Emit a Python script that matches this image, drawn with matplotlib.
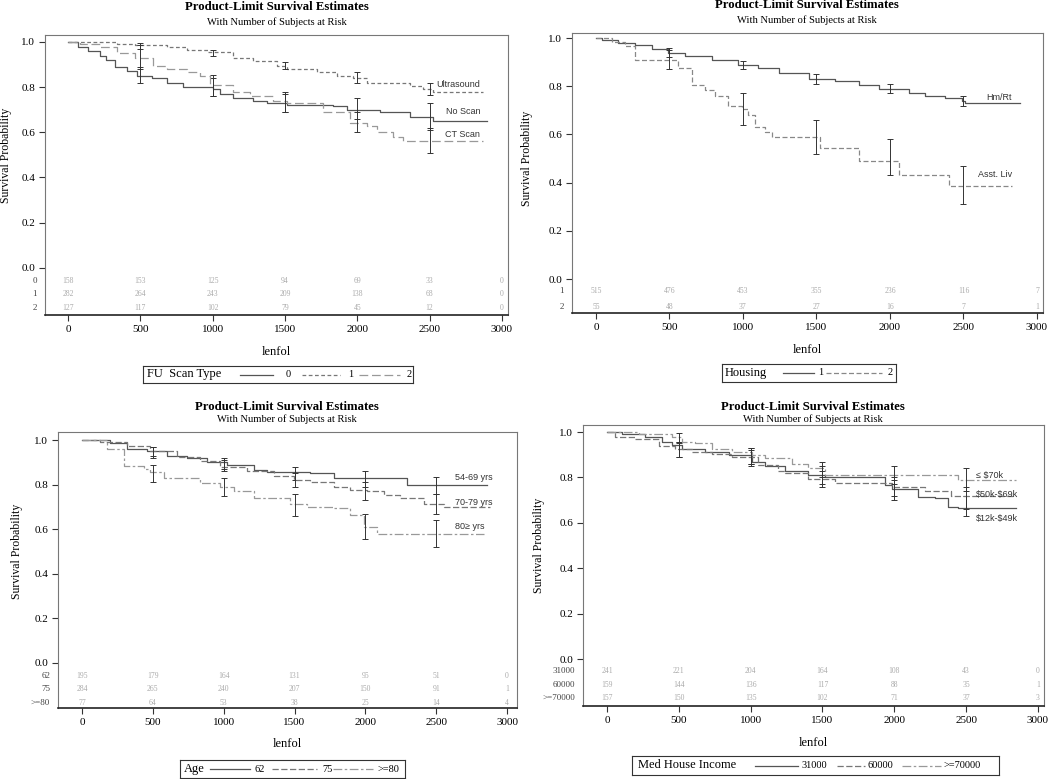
import matplotlib.pyplot as plt
import numpy as np
import matplotlib.transforms as mtransforms

SERIF = ['Liberation Serif', 'DejaVu Serif']
SANS = ['Liberation Sans', 'DejaVu Sans']

ci_times = [500, 1000, 1500, 2000, 2500]
risk_times = [0, 500, 1000, 1500, 2000, 2500, 3000]
xticks = [0, 500, 1000, 1500, 2000, 2500, 3000]
yticks = [0.0, 0.2, 0.4, 0.6, 0.8, 1.0]

# ---- panel 1: FU scan type ----
scan_labels = ['0', '1', '2']
scan_names = ['No Scan', 'Ultrasound', 'CT Scan']
noscan_t = [0, 69, 138, 219, 265, 323, 404, 473, 577, 681, 796, 1004, 1050, 1142, 1280, 1373, 1511, 1834, 1926, 2157, 2365, 2526, 2895]
noscan_s = [1.0, 0.98, 0.96, 0.94, 0.92, 0.89, 0.87, 0.85, 0.84, 0.82, 0.80, 0.79, 0.77, 0.75, 0.74, 0.73, 0.72, 0.715, 0.70, 0.69, 0.67, 0.65, 0.65]
ultra_t = [0, 335, 461, 681, 819, 969, 1142, 1280, 1442, 1511, 1719, 1857, 1973, 2065, 2365, 2457, 2526, 2872]
ultra_s = [1.0, 0.99, 0.985, 0.98, 0.965, 0.955, 0.93, 0.915, 0.895, 0.88, 0.865, 0.85, 0.84, 0.82, 0.805, 0.79, 0.78, 0.78]
ct_t = [0, 81, 219, 335, 461, 588, 681, 819, 911, 980, 1142, 1257, 1419, 1511, 1765, 1949, 2065, 2134, 2249, 2319, 2872]
ct_s = [1.0, 0.99, 0.98, 0.95, 0.93, 0.895, 0.88, 0.865, 0.85, 0.81, 0.78, 0.76, 0.74, 0.73, 0.69, 0.64, 0.63, 0.60, 0.58, 0.56, 0.56]
noscan_lo = [0.82, 0.76, 0.69, 0.66, 0.61]
noscan_hi = [0.89, 0.84, 0.77, 0.75, 0.73]
ultra_lo = [0.97, 0.94, 0.88, 0.82, 0.765]
ultra_hi = [0.995, 0.965, 0.91, 0.865, 0.82]
ct_lo = [0.88, 0.76, 0.69, 0.60, 0.51]
ct_hi = [0.985, 0.855, 0.78, 0.69, 0.62]
scan_risk = [[158, 153, 125, 94, 69, 33, 0],
             [282, 264, 243, 209, 138, 68, 0],
             [127, 117, 102, 79, 45, 12, 0]]

# ---- panel 2: housing ----
house_labels = ['1', '2']
house_names = ['Hm/Rt', 'Asst. Liv']
hmrt_t = [0, 39, 152, 266, 379, 493, 606, 788, 969, 1105, 1242, 1446, 1628, 1786, 1923, 2127, 2240, 2377, 2490, 2513, 2887]
hmrt_s = [1.0, 0.99, 0.98, 0.97, 0.955, 0.94, 0.925, 0.91, 0.89, 0.875, 0.855, 0.83, 0.82, 0.805, 0.79, 0.77, 0.76, 0.75, 0.74, 0.73, 0.73]
asst_t = [0, 107, 197, 266, 561, 651, 742, 810, 901, 992, 1037, 1083, 1151, 1196, 1525, 1786, 2059, 2399, 2830]
asst_s = [1.0, 0.985, 0.965, 0.91, 0.875, 0.805, 0.785, 0.76, 0.72, 0.705, 0.68, 0.63, 0.61, 0.59, 0.545, 0.49, 0.43, 0.385, 0.385]
hmrt_lo = [0.92, 0.87, 0.81, 0.77, 0.72]
hmrt_hi = [0.96, 0.905, 0.85, 0.81, 0.76]
asst_lo = [0.87, 0.64, 0.52, 0.43, 0.31]
asst_hi = [0.95, 0.77, 0.66, 0.58, 0.47]
house_risk = [[515, 476, 453, 355, 236, 116, 7],
              [55, 48, 37, 27, 16, 7, 1]]

# ---- panel 3: age ----
age_labels = ['62', '75', '>=80']
age_names = ['54-69 yrs', '70-79 yrs', '80\u2265 yrs']
a62_t = [0, 200, 318, 459, 600, 741, 882, 1024, 1212, 1306, 1612, 1776, 2294, 2859]
a62_s = [1.0, 0.985, 0.96, 0.95, 0.93, 0.92, 0.90, 0.89, 0.865, 0.855, 0.85, 0.83, 0.80, 0.80]
a75_t = [0, 129, 318, 482, 671, 835, 976, 1165, 1353, 1494, 1612, 1776, 1894, 2012, 2129, 2247, 2412, 2553, 2882]
a75_s = [1.0, 0.99, 0.975, 0.95, 0.925, 0.905, 0.88, 0.86, 0.84, 0.82, 0.81, 0.79, 0.775, 0.77, 0.755, 0.74, 0.715, 0.70, 0.70]
a80_t = [0, 176, 294, 435, 482, 576, 835, 976, 1071, 1212, 1471, 1588, 1776, 1894, 1988, 2082, 2835]
a80_s = [1.0, 0.96, 0.885, 0.87, 0.855, 0.83, 0.805, 0.79, 0.77, 0.74, 0.715, 0.70, 0.695, 0.665, 0.61, 0.58, 0.58]
a62_lo = [0.93, 0.87, 0.82, 0.79, 0.76]
a62_hi = [0.97, 0.92, 0.88, 0.86, 0.835]
a75_lo = [0.92, 0.86, 0.79, 0.73, 0.67]
a75_hi = [0.97, 0.91, 0.85, 0.81, 0.76]
a80_lo = [0.81, 0.75, 0.66, 0.555, 0.52]
a80_hi = [0.89, 0.83, 0.76, 0.67, 0.64]
age_risk = [[195, 179, 164, 131, 95, 51, 0],
            [284, 265, 240, 207, 150, 91, 1],
            [77, 64, 53, 38, 25, 14, 4]]

# ---- panel 4: median household income ----
inc_labels = ['31000', '60000', '>=70000']
inc_names = ['$12k-$49k', '$50k-$69k', '\u2264 $70k']
i31_t = [0, 104, 266, 382, 452, 521, 684, 846, 1008, 1101, 1240, 1402, 1518, 1935, 1981, 2166, 2282, 2375, 2444, 2850]
i31_s = [1.0, 0.99, 0.98, 0.955, 0.945, 0.925, 0.91, 0.90, 0.87, 0.85, 0.83, 0.81, 0.80, 0.765, 0.75, 0.715, 0.71, 0.67, 0.665, 0.665]
i60_t = [0, 58, 197, 359, 475, 591, 730, 869, 1054, 1193, 1240, 1402, 1587, 1981, 2213, 2398, 2850]
i60_s = [1.0, 0.98, 0.97, 0.94, 0.925, 0.91, 0.905, 0.89, 0.855, 0.83, 0.82, 0.795, 0.775, 0.76, 0.74, 0.72, 0.72]
i70_t = [0, 220, 452, 521, 614, 730, 869, 1008, 1101, 1286, 1402, 1518, 2444, 2850]
i70_s = [1.0, 0.99, 0.98, 0.955, 0.95, 0.925, 0.91, 0.90, 0.885, 0.86, 0.84, 0.81, 0.79, 0.79]
i31_lo = [0.89, 0.86, 0.77, 0.70, 0.63]
i31_hi = [0.955, 0.93, 0.85, 0.79, 0.72]
i60_lo = [0.89, 0.85, 0.76, 0.72, 0.66]
i60_hi = [0.955, 0.92, 0.83, 0.80, 0.76]
i70_lo = [0.95, 0.86, 0.80, 0.77, 0.74]
i70_hi = [0.995, 0.93, 0.87, 0.85, 0.84]
inc_risk = [[241, 221, 204, 164, 108, 43, 0],
            [159, 144, 136, 117, 88, 35, 1],
            [157, 150, 135, 102, 71, 37, 3]]

W, H = 1050, 779
fig = plt.figure(figsize=(W / 100, H / 100), dpi=100)
fig.patch.set_facecolor('white')


def px_axes(l, t, r, b):
    return fig.add_axes([l / W, 1 - b / H, (r - l) / W, (b - t) / H])


def km(ax, curves, cis, styles, risk, rlabels, row_y, xlim, ylim):
    for (t, s), (lo, hi), (ls, col) in zip(curves, cis, styles):
        t = np.asarray(t)
        s = np.asarray(s)
        ax.step(t, s, where='post', ls=ls, color=col, lw=0.9)
        idx = np.searchsorted(t, ci_times, side='right') - 1
        c = s[idx]
        lo = np.minimum(np.array(lo), c)
        hi = np.maximum(np.array(hi), c)
        ax.errorbar(ci_times, c, yerr=[c - lo, hi - c],
                    fmt='none', ecolor='#333333', elinewidth=0.7, capsize=2, capthick=0.7)
    blend = mtransforms.blended_transform_factory(ax.transAxes, ax.transData)
    for row, lab, y in zip(risk, rlabels, row_y):
        for t, n in zip(risk_times, row):
            ax.text(t, y, str(n), ha='center', va='center', fontsize=5.5,
                    color='#aaaaaa', family=SERIF)
        ax.text(-0.017, y, lab, transform=blend, ha='right', va='center',
                fontsize=6.5, color='#444444', family=SERIF)
    ax.set_xlim(*xlim)
    ax.set_ylim(*ylim)
    ax.set_xticks(xticks)
    ax.set_yticks(yticks)
    ax.set_yticklabels(['%.1f' % v for v in yticks])
    ax.tick_params(direction='out', length=4, width=0.8, color='#333333',
                   labelsize=8, pad=3)
    for lab in ax.get_xticklabels() + ax.get_yticklabels():
        lab.set_family(SERIF)
    for side in ['top', 'right', 'left']:
        ax.spines[side].set_color('#777777')
        ax.spines[side].set_linewidth(0.8)
    ax.spines['bottom'].set_color('#222222')
    ax.spines['bottom'].set_linewidth(1.2)
    ax.set_xlabel('lenfol', family=SERIF, fontsize=9)
    ax.set_ylabel('Survival Probability', family=SERIF, fontsize=8.5)
    return blend


def titles(cx, ty, sy):
    fig.text(cx / W, 1 - ty / H, 'Product-Limit Survival Estimates', ha='center',
             va='center', fontsize=9.2, fontweight='bold', family=SERIF)
    fig.text(cx / W, 1 - sy / H, 'With Number of Subjects at Risk', ha='center',
             va='center', fontsize=7.6, family=SERIF)


def legend_box(l, t, r, b, title, items, styles):
    lax = px_axes(l, t, r, b)
    lax.set_xlim(0, 1)
    lax.set_ylim(0, 1)
    lax.set_xticks([])
    lax.set_yticks([])
    for sp in lax.spines.values():
        sp.set_color('#333333')
        sp.set_linewidth(0.8)
    lax.text(0.015, 0.5, title, ha='left', va='center', fontsize=9, family=SERIF)
    for (x0, x1, xt, lab), (ls, col) in zip(items, styles):
        lax.plot([x0, x1], [0.5, 0.5], ls=ls, color=col, lw=0.9)
        lax.text(xt, 0.5, lab, ha='left', va='center', fontsize=7.5, family=SERIF)


# panel 1
st1 = [('-', '#555555'), ((0, (3, 2)), '#777777'), ((0, (7, 3)), '#999999')]
ax1 = px_axes(45, 35, 508, 315)
km(ax1, [(noscan_t, noscan_s), (ultra_t, ultra_s), (ct_t, ct_s)],
   [(noscan_lo, noscan_hi), (ultra_lo, ultra_hi), (ct_lo, ct_hi)],
   st1, scan_risk, scan_labels, [-0.058, -0.116, -0.178], (-160, 3042), (-0.209, 1.031))
ax1.xaxis.set_label_coords(0.5, -0.11)
ax1.yaxis.set_label_coords(-0.071, 0.5, transform=mtransforms.blended_transform_factory(ax1.transAxes, ax1.transData))
for name, y in zip(scan_names, [0.69, 0.81, 0.59]):
    ax1.text(2850, y, name, ha='right', va='center', fontsize=6.5, family=SANS, color='#333333')
titles(277, 7, 22)
legend_box(143, 366, 413, 383, 'FU  Scan Type',
           [(0.36, 0.48, 0.53, '0'), (0.59, 0.73, 0.76, '1'), (0.80, 0.95, 0.975, '2')], st1)

# panel 2
st2 = [('-', '#555555'), ((0, (4, 2)), '#888888')]
ax2 = px_axes(572, 33, 1043, 313)
km(ax2, [(hmrt_t, hmrt_s), (asst_t, asst_s)],
   [(hmrt_lo, hmrt_hi), (asst_lo, asst_hi)],
   st2, house_risk, house_labels, [-0.05, -0.116], (-163, 3041), (-0.141, 1.021))
ax2.xaxis.set_label_coords(0.5, -0.11)
ax2.yaxis.set_label_coords(-0.083, 0.5, transform=mtransforms.blended_transform_factory(ax2.transAxes, ax2.transData))
for name, y in zip(house_names, [0.755, 0.432]):
    ax2.text(2830, y, name, ha='right', va='center', fontsize=6.5, family=SANS, color='#333333')
titles(807, 5, 20)
legend_box(722, 364, 896, 382, 'Housing',
           [(0.35, 0.526, 0.55, '1'), (0.60, 0.92, 0.95, '2')], st2)

# panel 3
st3 = [('-', '#555555'), ((0, (5, 2)), '#777777'), ((0, (7, 2, 2, 2)), '#999999')]
ax3 = px_axes(58, 432, 517, 708)
km(ax3, [(a62_t, a62_s), (a75_t, a75_s), (a80_t, a80_s)],
   [(a62_lo, a62_hi), (a75_lo, a75_hi), (a80_lo, a80_hi)],
   st3, age_risk, age_labels, [-0.058, -0.117, -0.179], (-169, 3070), (-0.202, 1.036))
ax3.xaxis.set_label_coords(0.5, -0.11)
ax3.yaxis.set_label_coords(-0.076, 0.5, transform=mtransforms.blended_transform_factory(ax3.transAxes, ax3.transData))
for name, y in zip(age_names, [0.834, 0.722, 0.614]):
    ax3.text(2630, y, name, ha='left', va='center', fontsize=6.5, family=SANS, color='#333333')
titles(287, 407, 419)
legend_box(180, 760, 405, 778, 'Age',
           [(0.133, 0.311, 0.333, '62'), (0.409, 0.609, 0.631, '75'), (0.68, 0.858, 0.876, '>=80')], st3)

# panel 4
ax4 = px_axes(583, 425, 1044, 706)
km(ax4, [(i31_t, i31_s), (i60_t, i60_s), (i70_t, i70_s)],
   [(i31_lo, i31_hi), (i60_lo, i60_hi), (i70_lo, i70_hi)],
   st3, inc_risk, inc_labels, [-0.053, -0.115, -0.172], (-167, 3042), (-0.207, 1.031))
ax4.xaxis.set_label_coords(0.5, -0.11)
ax4.yaxis.set_label_coords(-0.082, 0.5, transform=mtransforms.blended_transform_factory(ax4.transAxes, ax4.transData))
for name, y in zip(inc_names, [0.62, 0.727, 0.81]):
    ax4.text(2570, y, name.replace('$', '\\$'), ha='left', va='center', fontsize=6.5,
             family=SANS, color='#333333')
titles(813, 407, 419)
legend_box(632, 756, 999, 775, 'Med House Income',
           [(0.335, 0.452, 0.463, '31000'), (0.559, 0.635, 0.643, '60000'), (0.736, 0.842, 0.85, '>=70000')], st3)

fig.savefig('out.png', dpi=100)
